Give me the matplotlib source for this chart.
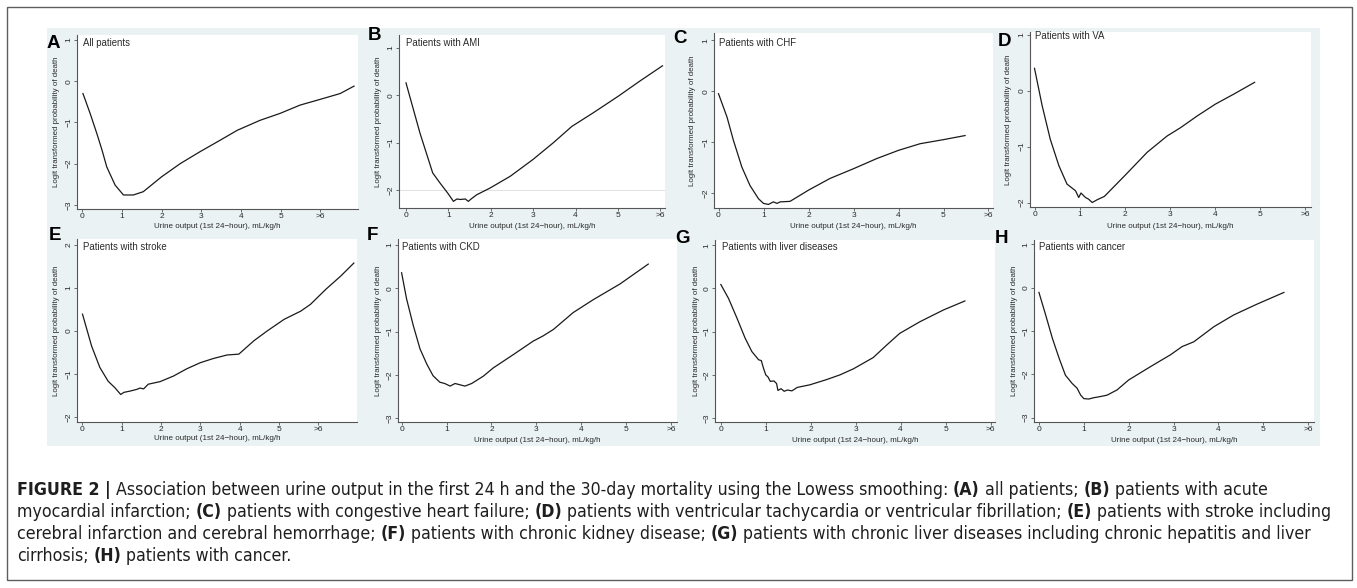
import matplotlib
matplotlib.use('Agg')
import matplotlib.pyplot as plt
from matplotlib import font_manager
from matplotlib.patches import Rectangle

W, H = 1357, 588

# lowess curves (x = urine output, y = logit)
a_x = [0.02, 0.2, 0.37, 0.5, 0.62, 0.83, 1.04, 1.29, 1.54, 2.0, 2.47, 2.97, 3.48, 3.91, 4.48, 4.99, 5.49, 6.0, 6.5, 6.85]
a_y = [-0.3, -0.78, -1.27, -1.67, -2.08, -2.52, -2.76, -2.76, -2.68, -2.32, -2.0, -1.71, -1.43, -1.19, -0.95, -0.78, -0.58, -0.44, -0.3, -0.12]

b_x = [0.0, 0.33, 0.63, 0.8, 0.98, 1.12, 1.2, 1.28, 1.4, 1.47, 1.55, 1.67, 1.98, 2.46, 2.99, 3.48, 3.91, 4.42, 5.01, 5.52, 6.05]
b_y = [0.26, -0.8, -1.64, -1.85, -2.06, -2.24, -2.19, -2.2, -2.19, -2.24, -2.18, -2.1, -1.96, -1.71, -1.36, -1.0, -0.66, -0.37, -0.02, 0.3, 0.62]

c_x = [0.0, 0.19, 0.33, 0.52, 0.7, 0.89, 1.0, 1.11, 1.22, 1.3, 1.37, 1.59, 2.0, 2.48, 3.0, 3.52, 4.0, 4.48, 5.0, 5.48]
c_y = [-0.05, -0.51, -0.96, -1.49, -1.85, -2.11, -2.2, -2.22, -2.17, -2.2, -2.17, -2.16, -1.94, -1.71, -1.52, -1.32, -1.16, -1.03, -0.95, -0.87]

d_x = [0.0, 0.17, 0.35, 0.54, 0.72, 0.91, 0.98, 1.03, 1.13, 1.2, 1.28, 1.39, 1.55, 2.0, 2.5, 2.94, 3.24, 3.61, 4.01, 4.42, 4.88]
d_y = [0.4, -0.27, -0.87, -1.34, -1.67, -1.79, -1.91, -1.83, -1.91, -1.94, -2.0, -1.95, -1.89, -1.52, -1.1, -0.81, -0.66, -0.45, -0.24, -0.06, 0.15]

e_x = [0.01, 0.24, 0.45, 0.66, 0.83, 0.98, 1.06, 1.22, 1.39, 1.47, 1.56, 1.68, 1.98, 2.32, 2.66, 3.0, 3.34, 3.68, 3.98, 4.36, 4.7, 5.13, 5.55, 5.8, 6.19, 6.57, 6.9]
e_y = [0.39, -0.35, -0.85, -1.17, -1.32, -1.48, -1.43, -1.4, -1.36, -1.33, -1.35, -1.24, -1.18, -1.05, -0.88, -0.74, -0.64, -0.56, -0.54, -0.23, 0.0, 0.27, 0.46, 0.62, 0.97, 1.28, 1.58]

f_x = [0.0, 0.11, 0.26, 0.41, 0.56, 0.7, 0.85, 0.96, 1.08, 1.19, 1.3, 1.41, 1.56, 1.82, 2.04, 2.49, 2.93, 3.15, 3.38, 3.82, 4.27, 4.86, 5.49]
f_y = [0.36, -0.24, -0.86, -1.4, -1.75, -2.02, -2.17, -2.2, -2.26, -2.2, -2.23, -2.26, -2.2, -2.03, -1.84, -1.53, -1.22, -1.1, -0.95, -0.56, -0.26, 0.1, 0.56]

g_x = [0.0, 0.17, 0.36, 0.54, 0.69, 0.84, 0.9, 0.95, 1.0, 1.05, 1.1, 1.18, 1.24, 1.27, 1.34, 1.41, 1.48, 1.58, 1.7, 1.98, 2.35, 2.65, 2.95, 3.39, 3.69, 3.98, 4.43, 4.95, 5.43]
g_y = [0.09, -0.23, -0.69, -1.15, -1.46, -1.65, -1.67, -1.85, -2.0, -2.05, -2.15, -2.14, -2.2, -2.36, -2.32, -2.38, -2.35, -2.37, -2.29, -2.23, -2.11, -2.0, -1.86, -1.6, -1.31, -1.04, -0.77, -0.5, -0.29]

h_x = [0.0, 0.15, 0.3, 0.45, 0.59, 0.74, 0.85, 0.93, 1.0, 1.11, 1.22, 1.33, 1.43, 1.52, 1.74, 2.0, 2.49, 2.93, 3.19, 3.45, 3.9, 4.34, 4.86, 5.46]
h_y = [-0.11, -0.63, -1.17, -1.63, -2.02, -2.21, -2.32, -2.48, -2.56, -2.57, -2.54, -2.52, -2.5, -2.48, -2.36, -2.13, -1.82, -1.55, -1.36, -1.25, -0.9, -0.63, -0.38, -0.11]

x_ticks = [0, 1, 2, 3, 4, 5, 6]
x_tick_labels = ['0', '1', '2', '3', '4', '5', '>6']

panel_letters = ['A', 'B', 'C', 'D', 'E', 'F', 'G', 'H']
panel_titles = ['All patients', 'Patients with AMI', 'Patients with CHF', 'Patients with VA',
                'Patients with stroke', 'Patients with CKD', 'Patients with liver diseases', 'Patients with cancer']
panel_yticks = [[-3, -2, -1, 0, 1], [-2, -1, 0, 1], [-2, -1, 0, 1], [-2, -1, 0, 1],
                [-2, -1, 0, 1, 2], [-3, -2, -1, 0, 1], [-3, -2, -1, 0, 1], [-3, -2, -1, 0, 1]]
curves = [(a_x, a_y), (b_x, b_y), (c_x, c_y), (d_x, d_y), (e_x, e_y), (f_x, f_y), (g_x, g_y), (h_x, h_y)]

x_title = 'Urine output (1st 24\u2212hour), mL/kg/h'
y_title = 'Logit transformed probability of death'

caption = [
    [("FIGURE 2 |", True),
     ("Association between urine output in the first 24 h and the 30-day mortality using the Lowess smoothing:", False),
     ("(A)", True), ("all patients;", False), ("(B)", True), ("patients with acute", False)],
    [("myocardial infarction;", False), ("(C)", True), ("patients with congestive heart failure;", False),
     ("(D)", True), ("patients with ventricular tachycardia or ventricular fibrillation;", False),
     ("(E)", True), ("patients with stroke including", False)],
    [("cerebral infarction and cerebral hemorrhage;", False), ("(F)", True),
     ("patients with chronic kidney disease;", False), ("(G)", True),
     ("patients with chronic liver diseases including chronic hepatitis and liver", False)],
    [("cirrhosis;", False), ("(H)", True), ("patients with cancer.", False)],
]

# layout in pixels: plot box (l, t, r, b), axis limits, y-title x, x-title y, letter pos, title pos
layout = [
    dict(box=(77, 35, 358, 209), xlim=(-0.13, 6.95), ylim=(-3.1, 1.12), ylab=57, xlab=226, let=(47, 35), tit=(83, 43)),
    dict(box=(399, 35, 665, 208), xlim=(-0.165, 6.11), ylim=(-2.38, 1.27), ylab=379, xlab=226, let=(368, 27), tit=(406, 43)),
    dict(box=(714, 33, 993, 208), xlim=(-0.1, 6.1), ylim=(-2.29, 1.14), ylab=692, xlab=226, let=(673, 30), tit=(719, 43)),
    dict(box=(1030, 32, 1311, 207), xlim=(-0.1, 6.13), ylim=(-2.08, 1.05), ylab=1009, xlab=226, let=(998, 33), tit=(1035, 36)),
    dict(box=(77, 239, 357, 422), xlim=(-0.13, 6.98), ylim=(-2.12, 2.14), ylab=57, xlab=439, let=(49, 227), tit=(83, 247)),
    dict(box=(398, 239, 677, 422), xlim=(-0.08, 6.13), ylim=(-3.09, 1.14), ylab=379, xlab=440, let=(367, 227), tit=(402, 247)),
    dict(box=(715, 240, 995, 422), xlim=(-0.13, 6.1), ylim=(-3.09, 1.12), ylab=697, xlab=440, let=(675, 230), tit=(722, 247)),
    dict(box=(1034, 240, 1314, 422), xlim=(-0.11, 6.13), ylim=(-3.1, 1.1), ylab=1014, xlab=440, let=(995, 230), tit=(1039, 247)),
]

BG = '#EAF2F3'
INK = '#2b2b2b'
FONT = 'Liberation Sans'

fig = plt.figure(figsize=(W / 100, H / 100), dpi=100)


def ftext(x, y, s, **kw):
    return fig.text(x / W, 1 - y / H, s, **kw)


# outer frame and the light graph region behind the panels
fig.patches.append(Rectangle((7 / W, 1 - 580 / H), (1352 - 7) / W, (580 - 7) / H, transform=fig.transFigure,
                             fill=False, edgecolor='#5e5e5e', linewidth=1.0, zorder=-5))
fig.patches.append(Rectangle((47 / W, 1 - 446 / H), (1320 - 47) / W, (446 - 28) / H, transform=fig.transFigure,
                             facecolor=BG, edgecolor='none', zorder=-5))

for i, lay in enumerate(layout):
    l, t, r, b = lay['box']
    ax = fig.add_axes([l / W, 1 - b / H, (r - l) / W, (b - t) / H])
    ax.set_zorder(1)
    ax.set_facecolor('white')
    x, y = curves[i]
    if panel_letters[i] == 'B':
        ax.axhline(-2, color='#dcdcdc', linewidth=0.6, zorder=1)
    ax.plot(x, y, color='#1a1a1a', linewidth=0.9, zorder=2)
    ax.set_xlim(*lay['xlim'])
    ax.set_ylim(*lay['ylim'])
    ax.set_xticks(x_ticks)
    ax.set_xticklabels(x_tick_labels)
    ax.set_yticks(panel_yticks[i])
    ax.set_yticklabels([str(v).replace('-', '\u2212') for v in panel_yticks[i]], rotation=90, va='center')
    for side in ['top', 'right']:
        ax.spines[side].set_visible(False)
    for side in ['left', 'bottom']:
        ax.spines[side].set_color('#555555')
        ax.spines[side].set_linewidth(0.8)
    ax.tick_params(direction='out', length=2.5, width=0.6, color='#555555', pad=0.6,
                   labelsize=6.0, labelcolor=INK)
    for lab in ax.get_xticklabels() + ax.get_yticklabels():
        lab.set_family(FONT)

    ftext((l + r) / 2, lay['xlab'], x_title, ha='center', va='center', fontsize=5.8, family=FONT, color=INK)
    ftext(lay['ylab'], (t + b) / 2, y_title, ha='center', va='center', rotation=90, fontsize=5.7,
          family=FONT, color=INK)
    ftext(lay['tit'][0], lay['tit'][1], panel_titles[i], ha='left', va='center', fontsize=6.9,
          family=FONT, color=INK, zorder=5)
    ftext(lay['let'][0], lay['let'][1], panel_letters[i], ha='left', va='top', fontsize=13.5,
          family=FONT, fontweight='bold', color='black', zorder=5)

# caption, pieces placed one after another so the bold bits sit inline
names = {f.name for f in font_manager.fontManager.ttflist}
cap_kw = dict(family='Liberation Sans')
if 'Liberation Sans Narrow' in names:
    cap_kw = dict(family='Liberation Sans Narrow')
elif any(f.name == 'DejaVu Sans' and 'condensed' in str(f.stretch) for f in font_manager.fontManager.ttflist):
    cap_kw = dict(family='DejaVu Sans', fontstretch='condensed')

renderer = fig.canvas.get_renderer()


def measure(s, size, bold):
    tt = fig.text(0, 0, s, fontsize=size, fontweight='bold' if bold else 'normal', **cap_kw)
    w = tt.get_window_extent(renderer=renderer).width
    tt.remove()
    return w


def line_width(pieces, size):
    gap = measure('x x', size, False) - measure('xx', size, False)
    return sum(measure(s, size, bd) for s, bd in pieces) + gap * (len(pieces) - 1)


cap_size = 10 * (1335 - 17) / line_width(caption[1], 10)
gap = measure('x x', cap_size, False) - measure('xx', cap_size, False)
for k, pieces in enumerate(caption):
    xx = 17
    yy = 495 + 22 * k
    for s, bd in pieces:
        tt = ftext(xx, yy, s, ha='left', va='baseline', fontsize=cap_size,
                   fontweight='bold' if bd else 'normal', color='#1e1e1e', **cap_kw)
        xx += tt.get_window_extent(renderer=renderer).width + gap

fig.savefig('out.png', dpi=100)
